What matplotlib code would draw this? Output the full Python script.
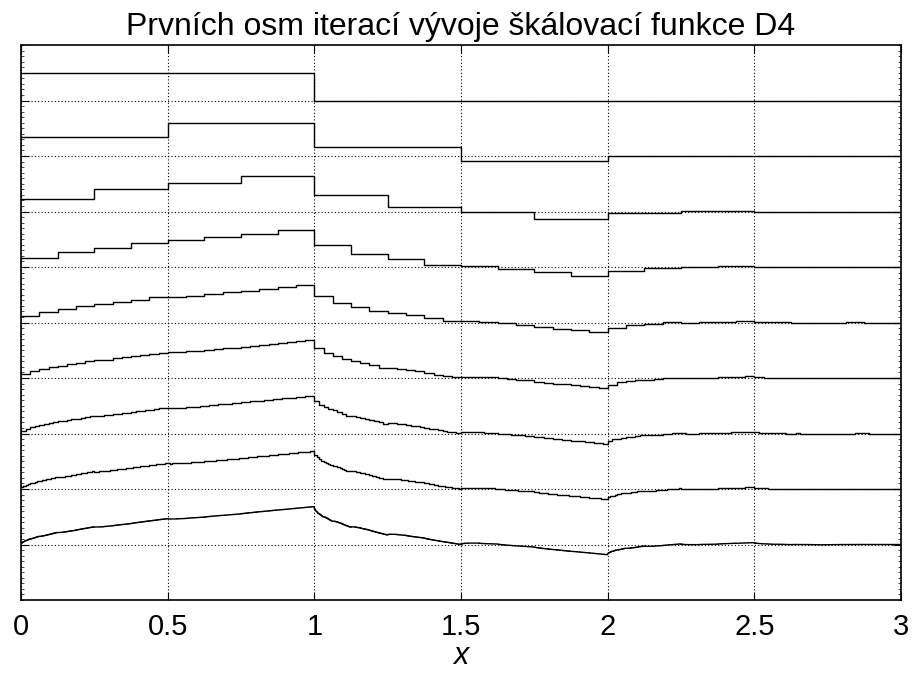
import numpy as np
import matplotlib
matplotlib.use("Agg")
import matplotlib.pyplot as plt
from matplotlib.ticker import MultipleLocator

# D4 refinement coefficients (heights of the first iteration's steps)
coeffs = [0.683, 1.183, 0.317, -0.183]
# iteration 0: box function on [0, 1), sampled on unit grid over [0, 3)
phi0 = [1.0, 0.0, 0.0]
n_iter = 8
x_ticks = [0, 0.5, 1, 1.5, 2, 2.5, 3]
x_ticklabels = ["0", "0.5", "1", "1.5", "2", "2.5", "3"]
title = "Prvních osm iterací vývoje škálovací funkce D4"
scale = 0.5

plt.rcParams['font.family'] = ['Liberation Sans', 'DejaVu Sans']

# cascade iterations
iters = [np.array(phi0)]
for k in range(n_iter):
    prev = iters[-1]
    step = 2 ** k
    new = np.zeros(2 * len(prev))
    for n, c in enumerate(coeffs):
        new[n * step:n * step + len(prev)] += c * prev[:len(new) - n * step]
    iters.append(new)

fig = plt.figure(figsize=(9.15, 6.75), dpi=100)
ax = fig.add_axes([0.023, 0.1111, 0.9617, 0.8222])

n_lines = len(iters)
for k, vals in enumerate(iters):
    base = n_lines - k
    xs = np.linspace(0, 3, len(vals) + 1)
    ys = base + scale * np.append(vals, vals[-1])
    ax.step(xs, ys, where='post', color='black', linewidth=1.0)

ax.set_xlim(0, 3)
ax.set_ylim(0, n_lines + 1)
ax.set_xticks(x_ticks)
ax.set_xticklabels(x_ticklabels)
ax.set_yticks(np.arange(1, n_lines + 1))
ax.set_yticklabels([])
ax.yaxis.set_minor_locator(MultipleLocator(0.1))
ax.grid(True, which='major', linestyle=(0, (1, 2)), color='black', linewidth=0.8)
ax.tick_params(axis='both', which='both', direction='in', top=True, right=True,
               labelsize=21, pad=9)
ax.tick_params(axis='both', which='major', length=6, width=0.8)
ax.tick_params(axis='y', which='minor', length=2, width=0.5)
for s in ax.spines.values():
    s.set_linewidth(1.2)

ax.set_title(title, fontsize=23, pad=7)
ax.set_xlabel("x", fontsize=22, style='italic', labelpad=0)

fig.savefig("out.png", dpi=100)
